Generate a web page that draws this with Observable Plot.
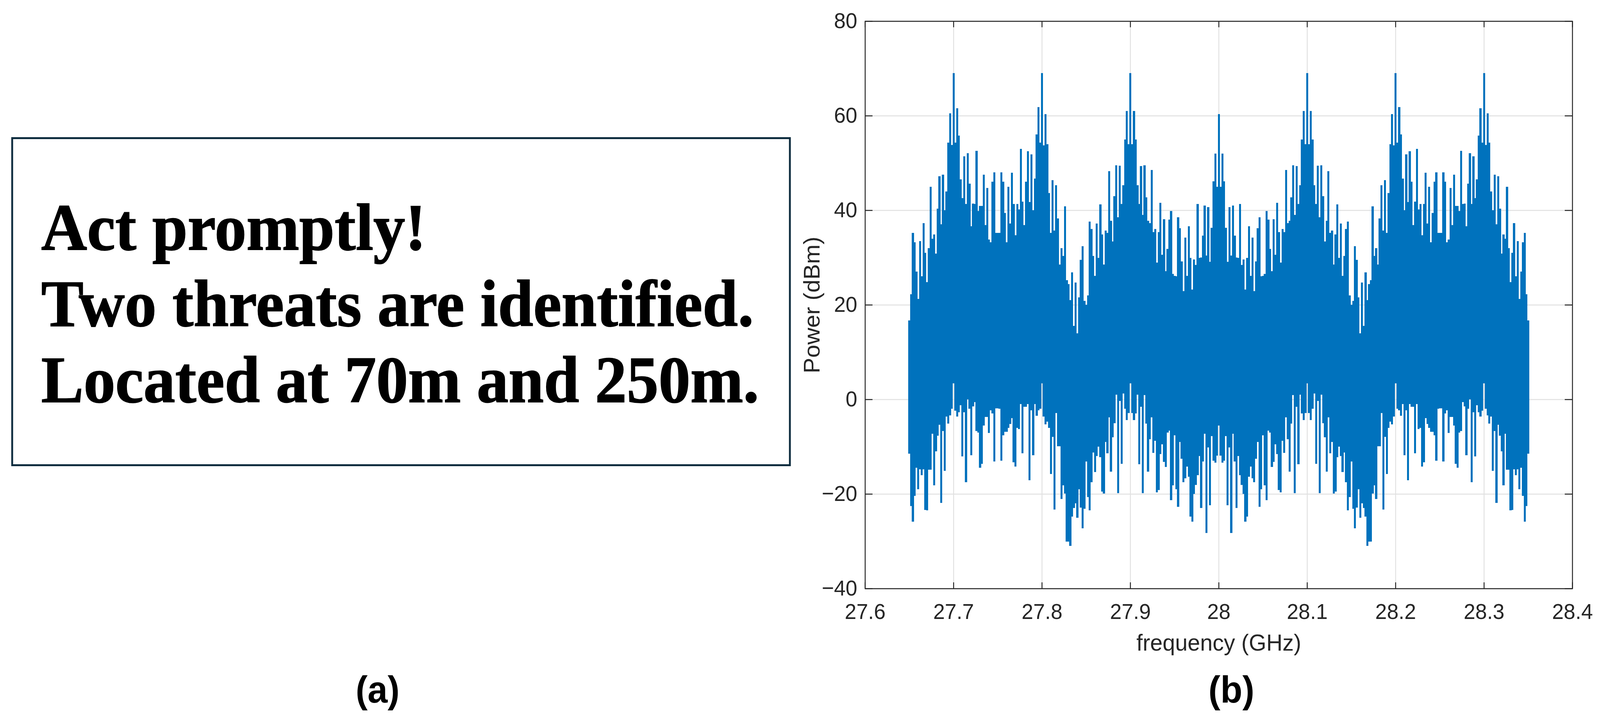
<!DOCTYPE html>
<html>
<head>
<meta charset="utf-8">
<script src="https://cdn.jsdelivr.net/npm/d3@7"></script>
<script src="https://cdn.jsdelivr.net/npm/@observablehq/plot@0.6"></script>
<style>
html,body{margin:0;padding:0;background:#fff;overflow:hidden;}
#page{position:absolute;left:0;top:0;width:4271px;height:1840px;overflow:hidden;transform-origin:0 0;}
#box{position:absolute;left:30px;top:351px;width:2081px;height:842px;box-sizing:border-box;border:5px solid #0f2d3f;}
.msg{position:absolute;left:110px;font:bold 169.5px/1 "Liberation Serif",serif;color:#000;white-space:nowrap;-webkit-text-stroke:2px #000;}
.cap{position:absolute;font:bold 96px/1 "Liberation Sans",sans-serif;color:#000;transform:translateX(-50%);white-space:nowrap;}
#chart{position:absolute;left:2100px;top:0;width:2171px;height:1840px;}
</style>
</head>
<body>
<div id="page"><div id="chart"></div><div id="box"></div></div>
<script>
const messageLines = ["Act promptly!", "Two threats are identified.", "Located at 70m and 250m."];
const panelCaptions = ["(a)", "(b)"];
const xTicks = [27.6, 27.7, 27.8, 27.9, 28, 28.1, 28.2, 28.3, 28.4];
const yTicks = [-40, -20, 0, 20, 40, 60, 80];
const firstFrequency = 27.65;   // GHz
const frequencyStep = 0.002;    // GHz between the samples

// Envelope peaks in dBm, read sample by sample from 27.65 to 28.00 GHz.
// The spectrum in the picture is mirror-symmetric about 28 GHz.
const upperHalf = [
16.7,22.2,35.2,33.2,27,21.2,33.5,26,37.3,31,24.8,32,45,34,34.9,30.8,40.3,47.2,37,47.5,40,44,54.3,60.5,53.8,
69,54.3,61.6,55.8,46.5,42.6,51.4,41.3,52.1,45.6,36.6,41.4,41.3,52.6,39.8,40.9,40.9,47.5,36.9,44.7,33.8,33.2,46,48,35.2,
35.2,35.2,48,46,39.4,33.2,45,37.2,47.9,41.3,34.7,41.3,40.2,53,41.8,36.9,46,52.5,41.7,51.8,40,46.7,56,61.8,54.3,
69,53.7,60.3,54,43.6,35.2,46.4,35.7,45.3,38.3,28.5,32,30.3,40.8,25.2,24.4,21,26.9,15.5,24.7,14,21.6,29.5,32.4,20.8,
20,22,37.6,36,30.3,26.1,37.2,29.9,41.2,34.9,28.5,35.7,35.2,48.3,37.8,33.4,43,49.5,38.5,49.4,41.3,45.3,55,61,54,
69,54,61,55,45.3,41.3,49.3,39,49.5,42.7,37.8,37.3,48.5,35.4,36,28.9,35.4,41.6,30.6,38.1,27.1,31.8,38,39.8,26.5,
26.1,26,38.5,36.2,29.2,22.9,34.2,26.1,36.6,29.9,23.2,29.6,28.4,41.3,29.9,30,34.6,41,30.4,40.7,29.1,36.3,46.1,52,45,
60.3];
const lowerHalf = [
-11.5,-22.6,-25.9,-20.4,-14.5,-19,-14.8,-16,-14.8,-23.4,-23.5,-14.9,-14.9,-7.3,-18.2,-11,-7.7,-5.4,-21.9,-6.7,-15.1,-3.6,-5.1,-3.4,-2,
3.4,-2.4,-3.6,-2.7,-1.2,-12.1,-2.7,-17.5,0,-2,-11.8,-1.5,-0.6,-6.7,-7,-14.5,-13.6,-5.5,-3.7,-3.7,-7.1,-2.3,-3,-13.1,-1.9,
-1.9,-2,-13,-7.6,-6.9,-6.9,-6,-5.2,-4,-13.3,-14.2,-6,-6.3,-1,-11.4,-1.6,-1.6,-1,-17.1,-2.3,-11.8,-1,-3.5,-2.3,-2,
3.4,-3.6,-5.3,-4.7,-6,-15.8,-7.9,-23.3,-2.9,-9.9,-9.9,-21.1,-18.2,-19.9,-30.1,-30.1,-31,-24.8,-23,-22,-25,-19,-22.9,-27.3,-23.1,
-13.1,-20.7,-23.5,-17.5,-11.2,-15.4,-12,-10,-12.2,-19.5,-19.9,-9,-11.4,-3.8,-15.3,-8,-5,1,-19.8,-0.3,-13.6,1.2,-2,-4.4,-2.9,
3.4,-2.9,-4.4,-3,1,-13.7,-1.6,-19.8,0.9,-5.1,-15.3,-8.4,-3.8,-11.3,-8.8,-19.7,-19.2,-11.6,-9.5,-13.2,-14.3,-7,-6.6,-21.3,-18.2,
-7.6,-19,-22.7,-9,-12.6,-17.5,-16.7,-14.2,-16.4,-24.8,-25.9,-20,-18.1,-16,-12,-23,-13.1,-7.3,-28.3,-10.2,-22.4,-7.8,-13,-13.4,-11.9,
-5.5];

const upper = [...upperHalf, ...upperHalf.slice(0, -1).reverse()];
const lower = [...lowerHalf, ...lowerHalf.slice(0, -1).reverse()];
const samples = upper.map((u, i) => ({f: firstFrequency + i * frequencyStep, hi: u, lo: lower[i]}));

const page = document.getElementById("page");
// The browser window may be narrower than the 4271 px picture: fit the width to it.
page.style.transform = `scaleX(${Math.min(1, window.innerWidth / 4271)})`;

[640, 835, 1030].forEach((baseline, i) => {
  const d = document.createElement("div");
  d.className = "msg";
  d.textContent = messageLines[i];
  d.style.top = (baseline - 142) + "px";
  page.appendChild(d);
});
[1008, 3287].forEach((cx, i) => {
  const d = document.createElement("div");
  d.className = "cap";
  d.textContent = panelCaptions[i];
  d.style.left = cx + "px";
  d.style.top = "1717px";
  page.appendChild(d);
});

const ink = "#262626", grid = "#e1e1e1", blue = "#0072BD";
const fmt = d => String(d);
const chart = Plot.plot({
  width: 2171, height: 1840,
  marginLeft: 209, marginRight: 74, marginTop: 54, marginBottom: 334,
  style: {fontFamily: '"Liberation Sans",sans-serif', color: ink, background: "transparent", maxWidth: "none"},
  x: {domain: [27.6, 28.4]},
  y: {domain: [-40, 80]},
  marks: [
    Plot.gridX(xTicks, {stroke: grid, strokeOpacity: 1, strokeWidth: 2.5}),
    Plot.gridY(yTicks, {stroke: grid, strokeOpacity: 1, strokeWidth: 2.5}),
    Plot.ruleX(samples, {x: "f", y1: "lo", y2: "hi", stroke: blue, strokeWidth: 5.5, strokeLinecap: "butt", shapeRendering: "crispEdges"}),
    Plot.ruleX(xTicks, {x: d => d, y1: -40, y2: -38.7, stroke: ink, strokeWidth: 2.5}),
    Plot.ruleX(xTicks, {x: d => d, y1: 80, y2: 78.7, stroke: ink, strokeWidth: 2.5}),
    Plot.ruleY(yTicks, {y: d => d, x1: 27.6, x2: 27.6085, stroke: ink, strokeWidth: 2.5}),
    Plot.ruleY(yTicks, {y: d => d, x1: 28.4, x2: 28.3915, stroke: ink, strokeWidth: 2.5}),
    Plot.frame({stroke: ink, strokeWidth: 2.5}),
    Plot.axisX(xTicks, {anchor: "bottom", tickSize: 0, tickPadding: 38, fontSize: 56, tickFormat: fmt, label: null}),
    Plot.axisY(yTicks, {anchor: "left", tickSize: 0, tickPadding: 21, fontSize: 56, tickFormat: d3.format("d"), label: null}),
    Plot.axisX([], {anchor: "bottom", tickSize: 0, fontSize: 60, label: "frequency (GHz)", labelAnchor: "center", labelArrow: "none", labelOffset: 158}),
    Plot.axisY([], {anchor: "left", tickSize: 0, fontSize: 60, label: "Power (dBm)", labelAnchor: "center", labelArrow: "none", labelOffset: 164})
  ]
});
document.getElementById("chart").appendChild(chart);
</script>
</body>
</html>
